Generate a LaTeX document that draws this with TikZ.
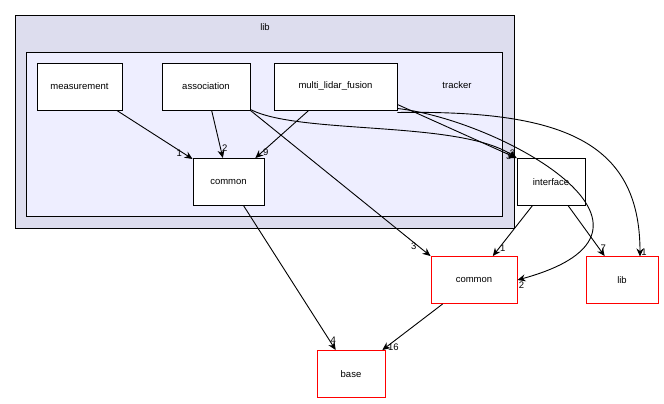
\documentclass[tikz,border=0pt]{standalone}
\usepackage{fontspec}
\setmainfont{Liberation Sans}
\usetikzlibrary{positioning,arrows.meta}
\tikzset{
  dir/.style={draw=black,fill=white,minimum height=47pt,inner sep=0pt,line width=0.9pt,font=\fontsize{9.5}{10}\selectfont},
  ext/.style={dir,draw=red},
  dep/.style={-{Stealth[length=8pt,width=7pt]},black,line width=0.9pt},
  num/.style={font=\fontsize{9.5}{10}\selectfont,inner sep=1pt}
}
\begin{document}
\begin{tikzpicture}[x=1pt,y=-1pt]
   \useasboundingbox (0,0) rectangle (664,404);
   % clusters
   \draw[line width=0.9pt,fill={rgb,255:red,221;green,221;blue,238}] (15,15) rectangle (514,228);
   \node[num] (liblbl) at (265,27) {lib};
   \draw[line width=0.9pt,fill={rgb,255:red,238;green,238;blue,255}] (26,52) rectangle (502,216);
   \node[num] (trk) at (457,85) {tracker};

   \node[dir,minimum width=85pt] (meas) at (79.5,86.5) {measurement};
   \node[dir,minimum width=88pt] (assoc) at (206,86.5) {association};
   \node[dir,minimum width=123pt] (mlf) at (335.5,86.5) {multi\_lidar\_fusion};
   \node[dir,minimum width=71pt] (cmn) at (228.5,182) {common};
   \node[dir,minimum width=68pt] (intf) at (551,182) {interface};
   \node[ext,minimum width=86pt] (cmnx) at (474,280) {common};
   \node[ext,minimum width=72pt] (libx) at (622,280) {lib};
   \node[ext,minimum width=68pt] (base) at (351,374) {base};

   \draw[dep] (meas) -- (cmn) node[num,pos=0.88,left] {1};
   \draw[dep] (assoc) -- (cmn) node[num,pos=0.8,right] {2};
   \draw[dep] (mlf) -- (cmn) node[num,pos=0.88,right] {9};
   \draw[dep] (assoc.east) ++(0,23) .. controls (300,135) and (460,120) .. (intf.north west) node[num,pos=1,above left] {2};
   \draw[dep] (mlf.east) ++(0,18) -- (intf.north west) node[num,pos=0.97,left] {3};
   \draw[dep] (assoc.south east) -- (cmnx.north west) node[num,pos=0.93,left] {3};
   \draw[dep] (mlf.east) ++(0,22) .. controls (500,120) and (700,230) .. (cmnx.east) node[num,pos=1,below right] {2};
   \draw[dep] (mlf.east) ++(0,26) .. controls (560,110) and (640,140) .. (640,256.5) node[num,pos=1,above right] {1};
   \draw[dep] (intf) -- (cmnx) node[num,pos=0.85,right] {1};
   \draw[dep] (intf) -- (libx) node[num,pos=0.85,right] {7};
   \draw[dep] (cmn) -- (base) node[num,pos=0.93,right] {4};
   \draw[dep] (cmnx) -- (base) node[num,pos=0.93,right] {16};
\end{tikzpicture}
\end{document}
